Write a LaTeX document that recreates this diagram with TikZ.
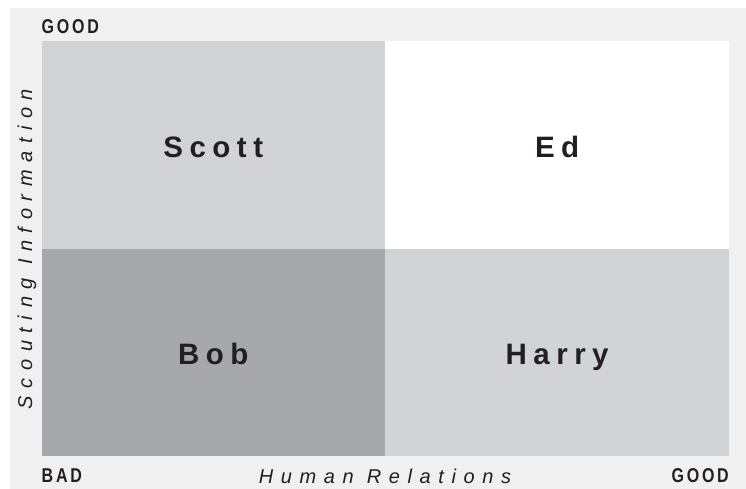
\documentclass[tikz,border=0pt]{standalone}
\usepackage{fontspec}
\usepackage{xcolor}
\usetikzlibrary{positioning}
\setmainfont{Liberation Sans}
\newfontfamily\namefont{Liberation Sans}[LetterSpace=22]
\newfontfamily\axisfont{Liberation Sans}[LetterSpace=38]
\newfontfamily\endfont{Liberation Sans}[LetterSpace=14,FakeStretch=0.8]

\definecolor{panelbg}{HTML}{F0F0F0}
\definecolor{lightq}{HTML}{D2D3D5}
\definecolor{darkq}{HTML}{A7A8AB}
\definecolor{inkc}{HTML}{231F20}

\tikzset{
  quad/.style={rectangle,inner sep=0pt,minimum width=343.5pt,minimum height=207pt,
    text height=25pt,text depth=0pt,
    text=inkc,font=\fontsize{29.5}{29.5}\selectfont\namefont\bfseries},
  endlabel/.style={inner sep=0pt,text=inkc,font=\fontsize{20}{20}\selectfont\endfont\bfseries},
  axislabel/.style={inner sep=0pt,text=inkc,font=\fontsize{20}{20}\selectfont\axisfont\itshape}
}

\begin{document}
\begin{tikzpicture}[x=1pt,y=-1pt]

  \useasboundingbox (0,0) rectangle (746,489);
  \fill [panelbg] (10,8) rectangle (746,489);

  % Quadrants
  \node [quad,fill=lightq] (scott) at (213.25,145) {Scott};
  \node [quad,fill=white,right=0pt of scott] (ed) {Ed};
  \node [quad,fill=darkq,below=0pt of scott] (bob) {Bob};
  \node [quad,fill=lightq,right=0pt of bob] (harry) {Harry};

  % Ends of the axes
  \node [endlabel,anchor=base west] (goodtop) at (41.5,34) {GOOD};
  \node [endlabel,anchor=base west] (bad) at (41.5,482) {BAD};
  \node [endlabel,anchor=base east] (goodright) at (729,482) {GOOD};

  % Axis titles
  \node [axislabel,anchor=base] (human) at (385,483) {Human Relations};
  \node [axislabel,rotate=90] (scouting) at (27,249) {Scouting Information};

\end{tikzpicture}
\end{document}
